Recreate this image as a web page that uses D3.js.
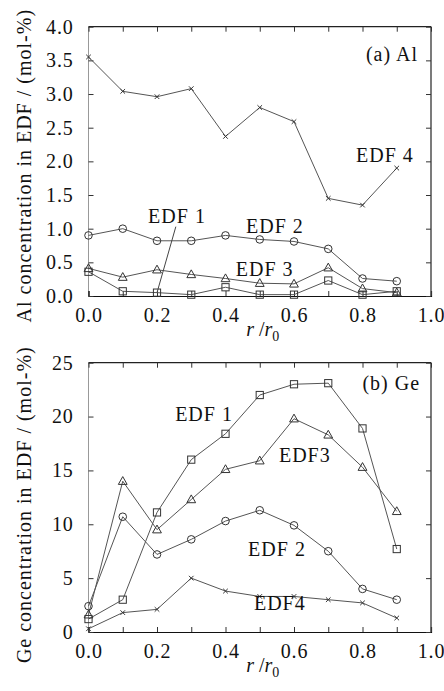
<!DOCTYPE html>
<html>
<head>
<meta charset="utf-8">
<script src="https://cdn.jsdelivr.net/npm/d3@7"></script>
<style>
  body { margin: 0; background: #fff; }
</style>
</head>
<body>
<div id="chart"></div>
<script>
// r / r0 positions shared by both panels
const rPos = [0.0, 0.1, 0.2, 0.3, 0.4, 0.5, 0.6, 0.7, 0.8, 0.9];

// (a) Al concentration, mol-%
const alEdf1 = [0.36, 0.07, 0.05, 0.02, 0.13, 0.02, 0.02, 0.23, 0.02, 0.07];
const alEdf2 = [0.90, 1.00, 0.82, 0.82, 0.90, 0.84, 0.81, 0.70, 0.26, 0.22];
const alEdf3 = [0.41, 0.28, 0.39, 0.32, 0.26, 0.19, 0.18, 0.42, 0.11, 0.05];
const alEdf4 = [3.55, 3.04, 2.96, 3.08, 2.37, 2.80, 2.59, 1.45, 1.35, 1.90];

// (b) Ge concentration, mol-%
const geEdf1 = [1.2, 3.0, 11.1, 16.0, 18.4, 22.0, 23.0, 23.1, 18.9, 7.7];
const geEdf2 = [2.4, 10.7, 7.2, 8.6, 10.3, 11.3, 9.9, 7.5, 4.0, 3.0];
const geEdf3 = [1.6, 14.0, 9.5, 12.3, 15.1, 15.9, 19.8, 18.3, 15.3, 11.2];
const geEdf4 = [0.3, 1.8, 2.1, 5.0, 3.8, 3.3, 3.3, 3.0, 2.7, 1.3];

const xTicks = [0.0, 0.2, 0.4, 0.6, 0.8, 1.0];
const xMinorTicks = [0.1, 0.3, 0.5, 0.7, 0.9];
const alTicks = [0.0, 0.5, 1.0, 1.5, 2.0, 2.5, 3.0, 3.5, 4.0];
const geTicks = [0, 5, 10, 15, 20, 25];

const FONT = '"Liberation Serif", "DejaVu Serif", "Times New Roman", serif';

const W = 444, H = 691;
const svg = d3.select('#chart').append('svg')
    .attr('width', W).attr('height', H)
    .attr('font-family', FONT);

const left = 88.5, plotW = 342.5, plotH = 269.3;

// marker shapes
function marker(sel, kind) {
    if (kind === 'circle') {
        sel.append('circle').attr('r', 3.8);
    } else if (kind === 'square') {
        sel.append('rect').attr('x', -3.6).attr('y', -3.6).attr('width', 7.2).attr('height', 7.2);
    } else if (kind === 'triangle') {
        sel.append('path').attr('d', 'M0,-4.6L4.4,3.2L-4.4,3.2Z');
    } else {
        sel.append('path').attr('d', 'M-2.3,-2.3L2.3,2.3M-2.3,2.3L2.3,-2.3');
    }
}

function drawPanel(top, cfg) {
    const g = svg.append('g').attr('transform', 'translate(' + left + ',' + top + ')');
    const x = d3.scaleLinear().domain([0, 1]).range([0, plotW]);
    const y = d3.scaleLinear().domain(cfg.yDomain).range([plotH, 0]);

    // frame: left axis is grey, the rest black
    g.append('line').attr('x1', 0).attr('x2', plotW).attr('y1', 0).attr('y2', 0)
        .attr('stroke', '#222').attr('stroke-width', 1.2);
    g.append('line').attr('x1', plotW).attr('x2', plotW).attr('y1', 0).attr('y2', plotH)
        .attr('stroke', '#222').attr('stroke-width', 1.2);
    g.append('line').attr('x1', 0).attr('x2', 0).attr('y1', 0).attr('y2', plotH)
        .attr('stroke', '#999').attr('stroke-width', 1);

    // bottom axis with inward ticks
    const xAxis = d3.axisBottom(x).tickValues(xTicks.concat(xMinorTicks))
        .tickSize(-5).tickPadding(12)
        .tickFormat(d => xTicks.includes(d) ? d3.format('.1f')(d) : '');
    const xg = g.append('g').attr('transform', 'translate(0,' + plotH + ')').call(xAxis);
    xg.select('.domain').attr('stroke', '#111').attr('stroke-width', 1.2);

    // top ticks
    const xTop = d3.axisTop(x).tickValues(xTicks.concat(xMinorTicks)).tickSize(-5).tickFormat('');
    const xt = g.append('g').call(xTop);
    xt.select('.domain').remove();

    // left axis
    const yAxis = d3.axisLeft(y).tickValues(cfg.yTicks).tickSize(-5).tickPadding(15)
        .tickFormat(cfg.yFormat);
    const yg = g.append('g').call(yAxis);
    yg.select('.domain').remove();

    // right ticks
    const yRight = d3.axisRight(y).tickValues(cfg.yTicks).tickSize(-5).tickFormat('');
    const yr = g.append('g').attr('transform', 'translate(' + plotW + ',0)').call(yRight);
    yr.select('.domain').remove();

    g.selectAll('.tick line').attr('stroke', '#333');
    g.selectAll('g').attr('font-family', FONT);
    g.selectAll('.tick text')
        .style('font-family', FONT)
        .style('font-size', '20px').style('letter-spacing', '0.8px').attr('fill', '#111');

    // series
    const line = d3.line().x((d, i) => x(rPos[i])).y(d => y(d));
    cfg.series.forEach(s => {
        g.append('path').datum(s.values)
            .attr('d', line)
            .attr('fill', 'none')
            .attr('stroke', '#555')
            .attr('stroke-width', 1);
    });
    cfg.series.forEach(s => {
        const pts = g.append('g').selectAll('g').data(s.values).join('g')
            .attr('transform', (d, i) => 'translate(' + x(rPos[i]) + ',' + y(d) + ')')
            .attr('fill', 'none').attr('stroke', '#333').attr('stroke-width', 1);
        pts.each(function () { marker(d3.select(this), s.shape); });
    });

    // leader lines
    (cfg.leaders || []).forEach(l => {
        g.append('line')
            .attr('x1', x(l.from[0])).attr('y1', y(l.from[1]))
            .attr('x2', x(l.to[0])).attr('y2', y(l.to[1]))
            .attr('stroke', '#444').attr('stroke-width', 1);
    });

    // labels
    cfg.labels.forEach(l => {
        g.append('text')
            .attr('x', x(l.at[0])).attr('y', y(l.at[1]))
            .attr('text-anchor', l.anchor || 'start')
            .attr('fill', '#111')
            .style('font-family', FONT)
            .style('font-size', '20px').style('letter-spacing', '1px')
            .text(l.text);
    });

    // x axis title: r / r0
    const xt2 = g.append('text')
        .attr('x', plotW / 2 + 3).attr('y', plotH + 40)
        .attr('text-anchor', 'middle')
        .attr('fill', '#111')
        .style('font-family', FONT)
        .style('font-size', '20px');
    xt2.append('tspan').style('font-style', 'italic').text('r');
    xt2.append('tspan').text(' /');
    xt2.append('tspan').style('font-style', 'italic').text('r');
    xt2.append('tspan').attr('dy', 5).style('font-size', '14px').text('0');

    // y axis title
    svg.append('text')
        .attr('transform', 'translate(31,' + (top + cfg.titleOffset) + ') rotate(-90)')
        .attr('text-anchor', 'middle')
        .attr('fill', '#111')
        .style('font-family', FONT)
        .style('font-size', '20px').style('letter-spacing', '1px')
        .text(cfg.yTitle);
}

drawPanel(26.7, {
    yDomain: [0, 4],
    yTicks: alTicks,
    yFormat: d3.format('.1f'),
    yTitle: 'Al concentration in EDF / (mol-%)',
    titleOffset: 139,
    series: [
        { values: alEdf4, shape: 'x' },
        { values: alEdf2, shape: 'circle' },
        { values: alEdf3, shape: 'triangle' },
        { values: alEdf1, shape: 'square' }
    ],
    leaders: [{ from: [0.255, 1.03], to: [0.2, 0.05] }],
    labels: [
        { text: '(a)  Al', at: [0.962, 3.49], anchor: 'end' },
        { text: 'EDF 4', at: [0.781, 1.99] },
        { text: 'EDF 1', at: [0.174, 1.085] },
        { text: 'EDF 2', at: [0.46, 0.94] },
        { text: 'EDF 3', at: [0.43, 0.30] }
    ]
});

drawPanel(362.7, {
    yDomain: [0, 25],
    yTicks: geTicks,
    yFormat: d3.format('d'),
    yTitle: 'Ge concentration in EDF / (mol-%)',
    titleOffset: 142,
    series: [
        { values: geEdf4, shape: 'x' },
        { values: geEdf2, shape: 'circle' },
        { values: geEdf3, shape: 'triangle' },
        { values: geEdf1, shape: 'square' }
    ],
    labels: [
        { text: '(b)  Ge', at: [0.968, 22.5], anchor: 'end' },
        { text: 'EDF 1', at: [0.253, 19.6] },
        { text: 'EDF3', at: [0.556, 15.8] },
        { text: 'EDF 2', at: [0.466, 7.1] },
        { text: 'EDF4', at: [0.483, 2.05] }
    ]
});
</script>
</body>
</html>
